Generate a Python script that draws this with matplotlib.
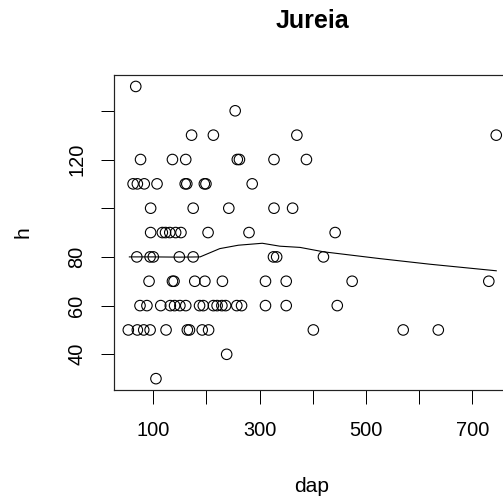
import numpy as np
import matplotlib
matplotlib.use("Agg")
import matplotlib.pyplot as plt

plt.rcParams['font.family'] = ['Liberation Sans', 'DejaVu Sans']

title = "Jureia"
xlabel = "dap"
ylabel = "h"

# data: (dap, h), grouped by h row
h150 = [67]
h140 = [254]
h130 = [172, 213, 370, 745]
h120 = [76, 136, 161, 258, 262, 327, 388]
h110 = [62, 70, 83, 107, 160, 163, 196, 199, 286]
h100 = [95, 175, 242, 327, 362]
h90 = [95, 117, 123, 131, 142, 152, 203, 280, 442]
h80 = [69, 94, 100, 149, 175, 326, 332, 420]
h70 = [92, 136, 139, 178, 197, 230, 311, 350, 474, 731]
h60 = [75, 88, 114, 132, 140, 150, 161, 187, 194, 213, 220, 229, 236, 257, 266, 311, 350, 446]
h50 = [53, 70, 82, 94, 124, 164, 168, 192, 204, 401, 570, 636]
h40 = [238]
h30 = [105]

rows = {150: h150, 140: h140, 130: h130, 120: h120, 110: h110, 100: h100,
        90: h90, 80: h80, 70: h70, 60: h60, 50: h50, 40: h40, 30: h30}

# smoothed (lowess) line
smooth_dap = [55, 100, 150, 188, 225, 260, 305, 338, 376, 420, 526, 620, 745]
smooth_h = [80.0, 80.0, 79.9, 80.0, 83.4, 84.8, 85.6, 84.4, 83.9, 82.1, 79.3, 77.0, 74.3]

xticks = [100, 200, 300, 400, 500, 600, 700]
xticklabels = ["100", "", "300", "", "500", "", "700"]
yticks = [40, 60, 80, 100, 120, 140]
yticklabels = ["40", "60", "80", "", "120", ""]

dap = np.array([x for hv, xs in rows.items() for x in xs], dtype=float)
h = np.array([hv for hv, xs in rows.items() for x in xs], dtype=float)

W, H = 503, 504
fig = plt.figure(figsize=(W / 72, H / 72), dpi=72)

xr = dap.max() - dap.min()
yr = h.max() - h.min()
xlim = (dap.min() - 0.04 * xr, dap.max() + 0.04 * xr)
ylim = (h.min() - 0.04 * yr, h.max() + 0.04 * yr)

pxx = 0.5317   # px per dap unit
pxy = 2.435    # px per h unit
left_px = 153.3 - (100 - xlim[0]) * pxx
bottom_px = 354.3 + (40 - ylim[0]) * pxy
wpx = (xlim[1] - xlim[0]) * pxx
hpx = (ylim[1] - ylim[0]) * pxy
ax = fig.add_axes([left_px / W, 1 - bottom_px / H, wpx / W, hpx / H])

ax.scatter(dap, h, s=10.5**2, facecolors="none", edgecolors="black", linewidths=1.1)
ax.plot(smooth_dap, smooth_h, color="black", lw=1.1)

ax.set_xlim(xlim)
ax.set_ylim(ylim)
ax.set_xticks(xticks)
ax.set_xticklabels(xticklabels)
ax.set_yticks(yticks)
ax.set_yticklabels(yticklabels, rotation=90, va="center")
ax.tick_params(direction="out", length=13.5, width=1.0, labelsize=20, colors="black")
ax.tick_params(axis="x", pad=17)
ax.tick_params(axis="y", pad=14)
for s in ax.spines.values():
    s.set_linewidth(1.2)
    s.set_color("#222222")

fig.text(312 / W, 1 - 21 / H, title, ha="center", va="center", fontsize=25, fontweight="bold")
fig.text(312 / W, 1 - 486 / H, xlabel, ha="center", va="center", fontsize=21)
fig.text(23 / W, 1 - 232 / H, ylabel, ha="center", va="center", fontsize=21, rotation=90)

fig.savefig("out.png", dpi=72)
